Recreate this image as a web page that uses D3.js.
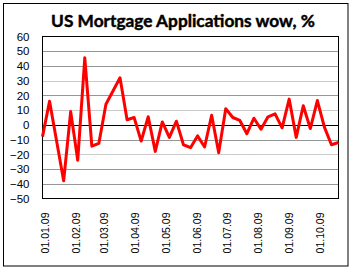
<!DOCTYPE html>
<html>
<head>
<meta charset="utf-8">
<script src="https://cdn.jsdelivr.net/npm/d3@7"></script>
<style>
html, body { margin: 0; padding: 0; background: #fff; }
svg { display: block; }
</style>
</head>
<body>
<svg id="chart" width="354" height="268"></svg>
<script>
// ---- data ----
const startDate = "2008-12-31";
const values = [-8, 16, -11, -38, 9, -24, 45.5, -14.5, -12.5, 14,
                23, 32, 3.5, 5, -11, 5.5, -18, 2, -8.5, 2.5,
                -13.5, -15.5, -7.5, -15, 6.5, -19, 11, 5, 3, -6,
                4.5, -3, 5.5, 7.5, -2, 17.5, -8.5, 13, -2.5, 16.5,
                -1.5, -13.5, -12];
const yTicks = [60, 50, 40, 30, 20, 10, 0, -10, -20, -30, -40, -50];
const xTickDates = ["2009-01-01", "2009-02-01", "2009-03-01", "2009-04-01", "2009-05-01",
                    "2009-06-01", "2009-07-01", "2009-08-01", "2009-09-01", "2009-10-01"];
const title = "US Mortgage Applications wow, %";

const parse = d3.timeParse("%Y-%m-%d");
const fmt = d3.timeFormat("%d.%m.%y");
const t0 = parse(startDate);
const data = values.map((v, i) => ({ date: d3.timeDay.offset(t0, 7 * i), value: v }));

const svg = d3.select("#chart");
const plot = { left: 42.5, right: 338.5, top: 36.5, bottom: 198.5 };

// outer border
svg.append("rect").attr("x", 3.5).attr("y", 3.5).attr("width", 344.5).attr("height", 262.5)
  .attr("fill", "#fff").attr("stroke", "#000").attr("stroke-width", 1);

const x = d3.scaleTime()
  .domain([data[0].date, data[data.length - 1].date])
  .range([plot.left, plot.right]);
const y = d3.scaleLinear().domain([-50, 60]).range([plot.bottom, plot.top]);

// gridlines
const dotted = new Set([30, 10, -20]);
svg.append("g").selectAll("line").data(yTicks.filter(d => d !== 60 && d !== -50 && d !== 0))
  .join("line")
  .attr("x1", plot.left).attr("x2", plot.right)
  .attr("y1", d => Math.round(y(d)) + 0.5).attr("y2", d => Math.round(y(d)) + 0.5)
  .attr("stroke", "#969696").attr("stroke-width", 1)
  .attr("stroke-dasharray", d => dotted.has(d) ? "1,1" : null);

// zero line
svg.append("line")
  .attr("x1", plot.left).attr("x2", plot.right)
  .attr("y1", Math.round(y(0)) + 0.5).attr("y2", Math.round(y(0)) + 0.5)
  .attr("stroke", "#000").attr("stroke-width", 1);

// plot border
svg.append("rect").attr("x", plot.left).attr("y", plot.top)
  .attr("width", plot.right - plot.left).attr("height", plot.bottom - plot.top)
  .attr("fill", "none").attr("stroke", "#000").attr("stroke-width", 1);

// y axis labels
const yAxis = d3.axisLeft(y).tickValues(yTicks).tickSize(0).tickPadding(13).tickFormat(d3.format("d"));
const gy = svg.append("g").attr("transform", `translate(${plot.left},0)`).call(yAxis);
gy.select(".domain").remove();
gy.selectAll("text").attr("font-family", "Liberation Sans, Arial, sans-serif")
  .attr("font-size", 11.5).attr("fill", "#000");

// x axis labels
const xAxis = d3.axisBottom(x).tickValues(xTickDates.map(parse)).tickSize(0).tickFormat(fmt);
const gx = svg.append("g").attr("transform", `translate(0,${plot.bottom})`).call(xAxis);
gx.select(".domain").remove();
gx.selectAll("text")
  .attr("font-family", "Liberation Sans, Arial, sans-serif")
  .attr("font-size", 10.5).attr("fill", "#000")
  .attr("text-anchor", "end")
  .attr("transform", "rotate(-90)")
  .attr("x", -14).attr("y", 1).attr("dy", "0.35em");

// line
const line = d3.line().x(d => x(d.date)).y(d => y(d.value));
svg.append("path").datum(data)
  .attr("d", line)
  .attr("fill", "none").attr("stroke", "#ff0000").attr("stroke-width", 3)
  .attr("stroke-linejoin", "round").attr("stroke-linecap", "butt");

// title
const tt = svg.append("text").text(title)
  .attr("x", 183).attr("y", 26.5).attr("text-anchor", "middle")
  .attr("font-family", "Lato, Open Sans, sans-serif").attr("font-weight", "bold")
  .attr("font-size", 18).attr("fill", "#000")
  .attr("stroke", "#000").attr("stroke-width", 0.45);
const tw = tt.node().getComputedTextLength();
tt.attr("font-size", 18 * 264 / tw);
</script>
</body>
</html>
